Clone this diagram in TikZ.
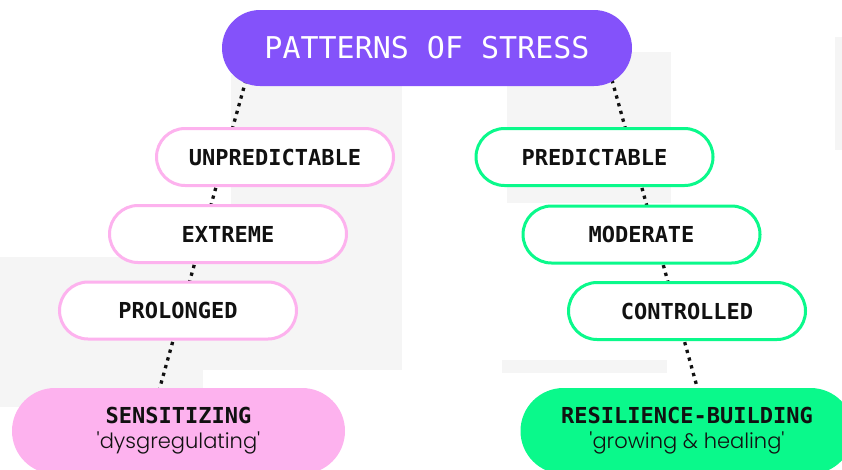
\documentclass[tikz,border=0pt]{standalone}
\usepackage{fontspec}
\setmainfont{Poppins}
\setmonofont{DejaVu Sans Mono}
\IfFontExistsTF{Poppins Light}
    {\newfontfamily\notefont{Poppins Light}[Ligatures=TeXOff]}
    {\newfontfamily\notefont{Poppins}[Ligatures=TeXOff]}
\newcommand{\tagfont}{\fontsize{22}{24}\selectfont\ttfamily\bfseries}
\usepackage{tikz}
\usetikzlibrary{positioning,calc}
\usepackage{xcolor}

\definecolor{stressviolet}{HTML}{8452FA}
\definecolor{sensepink}{HTML}{FDB2EE}
\definecolor{resgreen}{HTML}{0AF98B}
\definecolor{panelgray}{HTML}{F5F5F5}
\definecolor{inkblack}{HTML}{111111}

\pgfdeclarelayer{panels}
\pgfdeclarelayer{links}
\pgfsetlayers{panels,links,main}

\begin{document}
\begin{tikzpicture}[x=1pt, y=-1pt,
    headblock/.style={rectangle, rounded corners=38pt, fill=stressviolet, minimum width=410pt, minimum height=76pt, text=white, font=\fontsize{30}{30}\selectfont\ttfamily},
    pinkblock/.style={rectangle, rounded corners=28.5pt, draw=sensepink, line width=3pt, fill=white, minimum width=237pt, minimum height=57pt, text=inkblack, font=\tagfont},
    greenblock/.style={pinkblock, draw=resgreen},
    outcome/.style={rectangle, rounded corners=43pt, minimum width=333pt, minimum height=86pt, align=center, text=inkblack, font=\fontsize{21}{25}\selectfont},
    link/.style={line width=3.3pt, dash pattern=on 3.3pt off 4.7pt, inkblack}
]
    \useasboundingbox (0,0) rectangle (842,469);
    \clip (0,0) rectangle (842,469);

    % faint panels in the back
    \begin{pgfonlayer}{panels}
        \fill[panelgray] (231,75) rectangle (402,370);
        \fill[panelgray] (0,257) rectangle (231,370);
        \fill[panelgray] (0,370) rectangle (203,407);
        \fill[panelgray] (507,52) rectangle (671,203);
        \fill[panelgray] (502,360) rectangle (667,373);
        \fill[panelgray] (835,37) rectangle (842,150);
    \end{pgfonlayer}

    % Title
    \node[headblock] (stress) at (427,48) {PATTERNS OF STRESS};

    % Left branch
    \node[pinkblock] (unpred) at (275,157) {UNPREDICTABLE};
    \node[pinkblock] (extreme) at (228,234) {EXTREME};
    \node[pinkblock] (prolong) at (178,310.5) {PROLONGED};
    \node[outcome, fill=sensepink] (sens) at (178.5,431)
        {{\tagfont SENSITIZING}\\{\notefont 'dysgregulating'}};

    % Right branch
    \node[greenblock] (pred) at (594.5,157) {PREDICTABLE};
    \node[greenblock] (moderate) at (641.5,234.5) {MODERATE};
    \node[greenblock] (control) at (687,311) {CONTROLLED};
    \node[outcome, fill=resgreen] (resil) at (687,431)
        {{\tagfont RESILIENCE-BUILDING}\\{\notefont 'growing \& healing'}};

    % Dotted links (run behind the blocks)
    \begin{pgfonlayer}{links}
        \draw[link] ($(stress.center)+(-181,32)$) -- ($(sens.center)+(-20.7,-36)$);
        \draw[link] ($(stress.center)+(185,32)$) -- ($(resil.center)+(12.3,-36)$);
    \end{pgfonlayer}
\end{tikzpicture}
\end{document}
